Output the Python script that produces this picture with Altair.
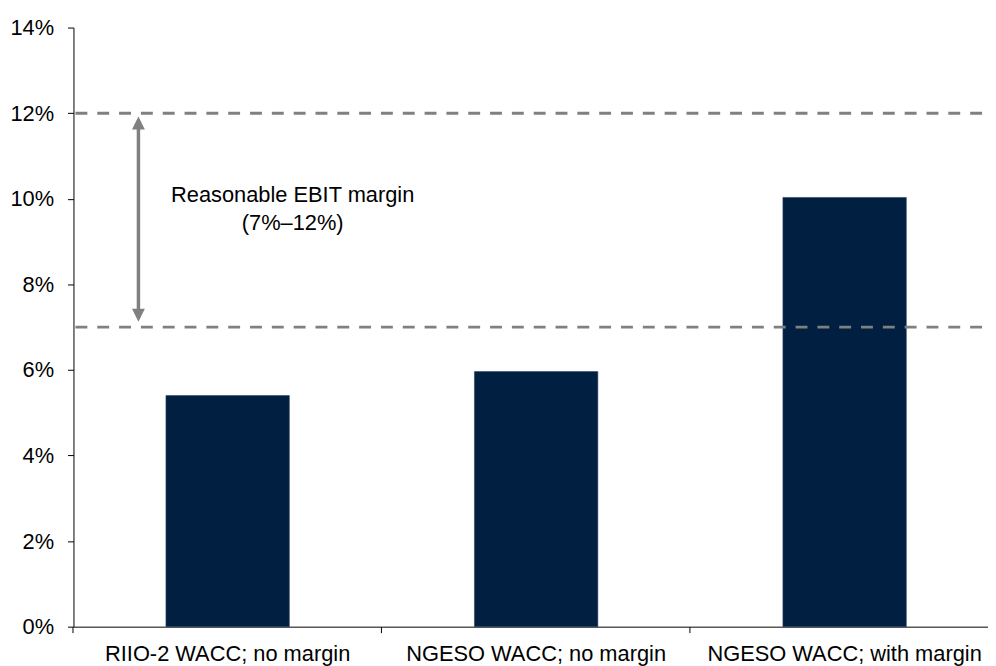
import altair as alt
import pandas as pd

categories = ["RIIO-2 WACC; no margin", "NGESO WACC; no margin", "NGESO WACC; with margin"]
values = [0.0540, 0.0596, 0.1003]
thresholds = [0.12, 0.07]
y_ticks = [0.0, 0.02, 0.04, 0.06, 0.08, 0.10, 0.12, 0.14]
note_lines = ["Reasonable EBIT margin", "(7%–12%)"]

FONT = "Liberation Sans"
FS = 22
W, H = 922, 604

bars_df = pd.DataFrame({"cat": categories, "val": values})
thr_df = pd.DataFrame({"y": thresholds})
arrow_df = pd.DataFrame({"y": [thresholds[0]], "y2": [thresholds[1]]})
note_df = pd.DataFrame({"t": [note_lines]})

yscale = alt.Scale(domain=[0, 0.14], nice=False, zero=True)

bars = alt.Chart(bars_df).mark_bar(color="#001F41", stroke="#2c4466", strokeWidth=0.6).encode(
    x=alt.X("cat:N", sort=categories, title=None,
            scale=alt.Scale(paddingInner=0.6, paddingOuter=0.2823, align=0.531),
            axis=alt.Axis(labelAngle=0, bandPosition=-0.75, domainColor="black", tickColor="black",
                          tickSize=6, tickWidth=1, labelPadding=11, labelFont=FONT, labelFontSize=FS,
                          labelColor="black", labelLimit=0, grid=False)),
    y=alt.Y("val:Q", scale=yscale, title=None,
            axis=alt.Axis(values=y_ticks, format=".0%", domainColor="black", tickColor="black",
                          tickSize=6, labelPadding=14, labelFont=FONT, labelFontSize=FS,
                          labelColor="black", grid=False)),
)

rules = alt.Chart(thr_df).mark_rule(color="#808080", strokeWidth=3, strokeDash=[12, 10]).encode(
    y=alt.Y("y:Q", scale=yscale),
    x=alt.value(2),
    x2=alt.value(W),
)

arrow_line = alt.Chart(arrow_df).mark_rule(color="#808080", strokeWidth=3.5, yOffset=10, y2Offset=-12).encode(
    x=alt.value(65.5),
    y=alt.Y("y:Q", scale=yscale),
    y2="y2:Q",
)

head_up = alt.Chart(arrow_df).mark_point(
    shape="M0,-1L1,1L-1,1Z", filled=True, color="#808080", opacity=1, size=169, yOffset=10
).encode(x=alt.value(65.5), y=alt.Y("y:Q", scale=yscale))

head_down = alt.Chart(arrow_df).mark_point(
    shape="M0,1L1,-1L-1,-1Z", filled=True, color="#808080", opacity=1, size=169, yOffset=-12
).encode(x=alt.value(65.5), y=alt.Y("y2:Q", scale=yscale))

note = alt.Chart(note_df).mark_text(
    font=FONT, fontSize=FS, color="black", align="center", baseline="middle", lineHeight=28
).encode(x=alt.value(221), y=alt.value(169), text="t")

chart = alt.layer(bars, rules, arrow_line, head_up, head_down, note).properties(
    width=W, height=H,
    padding={"left": 66, "top": 17, "right": 0, "bottom": 45},
    autosize=alt.AutoSizeParams(type="none"),
).configure_view(stroke=None)

chart.save("out.html", embed_options={"renderer": "svg", "actions": False})
